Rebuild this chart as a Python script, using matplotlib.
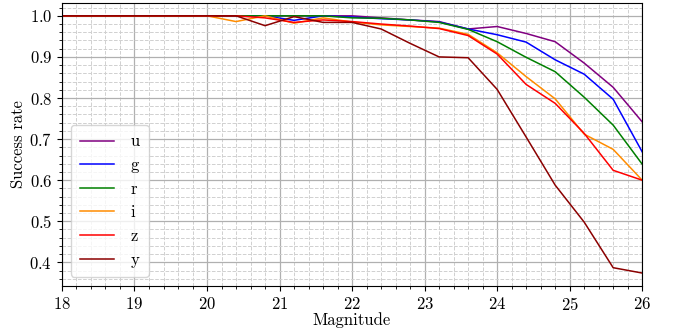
import numpy as np
import matplotlib
matplotlib.use('Agg')
import matplotlib.pyplot as plt
from matplotlib.ticker import MultipleLocator

plt.rcParams['font.family'] = 'serif'
plt.rcParams['font.serif'] = ['cmr10']
plt.rcParams['mathtext.fontset'] = 'cm'
plt.rcParams['axes.formatter.use_mathtext'] = True

mag = [18.0, 18.4, 18.8, 19.2, 19.6, 20.0, 20.4, 20.8, 21.2, 21.6, 22.0,
       22.4, 22.8, 23.2, 23.6, 24.0, 24.4, 24.8, 25.2, 25.6, 26.0]

bands = ['u', 'g', 'r', 'i', 'z', 'y']
colors = ['purple', 'blue', 'green', 'darkorange', 'red', 'darkred']

rate_u = [1.0, 1.0, 1.0, 1.0, 1.0, 1.0, 1.0, 1.0, 1.0, 1.0, 1.0,
          0.995, 0.99, 0.986, 0.968, 0.974, 0.957, 0.937, 0.885, 0.826, 0.742]
rate_g = [1.0, 1.0, 1.0, 1.0, 1.0, 1.0, 1.0, 1.0, 0.989, 1.0, 0.997,
          0.993, 0.99, 0.985, 0.968, 0.954, 0.936, 0.893, 0.858, 0.797, 0.669]
rate_r = [1.0, 1.0, 1.0, 1.0, 1.0, 1.0, 1.0, 1.0, 1.0, 1.0, 0.995,
          0.994, 0.99, 0.984, 0.967, 0.937, 0.899, 0.864, 0.802, 0.734, 0.639]
rate_i = [1.0, 1.0, 1.0, 1.0, 1.0, 1.0, 0.986, 1.0, 0.982, 0.995, 0.985,
          0.978, 0.974, 0.97, 0.955, 0.91, 0.852, 0.798, 0.712, 0.675, 0.6]
rate_z = [1.0, 1.0, 1.0, 1.0, 1.0, 1.0, 1.0, 0.995, 0.984, 0.99, 0.986,
          0.98, 0.975, 0.969, 0.952, 0.907, 0.833, 0.787, 0.714, 0.624, 0.6]
rate_y = [1.0, 1.0, 1.0, 1.0, 1.0, 1.0, 1.0, 0.976, 0.998, 0.984, 0.984,
          0.968, 0.933, 0.9, 0.898, 0.821, 0.705, 0.588, 0.498, 0.387, 0.374]

rates = [rate_u, rate_g, rate_r, rate_i, rate_z, rate_y]

fig = plt.figure(figsize=(6.81, 3.29), dpi=100)
ax = fig.add_axes([0.091, 0.131, 0.852, 0.86])

for b, c, r in zip(bands, colors, rates):
    ax.plot(mag, r, color=c, lw=1.1, label=b)

ax.set_xlim(18, 26)
ax.xaxis.set_major_locator(MultipleLocator(1))
ax.xaxis.set_minor_locator(MultipleLocator(0.2))
ax.yaxis.set_major_locator(MultipleLocator(0.1))
ax.yaxis.set_minor_locator(MultipleLocator(0.02))
ax.grid(which='major', color='#b0b0b0', lw=0.9)
ax.grid(which='minor', color='#d0d0d0', ls='--', lw=0.7)
ax.set_axisbelow(True)

ax.tick_params(labelsize=12)
ax.set_xlabel('Magnitude', fontsize=12, labelpad=0)
ax.set_ylabel('Success rate', fontsize=12, labelpad=2)

ax.legend(loc='lower left', fontsize=12, handlelength=2.0, borderaxespad=0.55,
          labelspacing=0.5, handletextpad=1.0, borderpad=0.55)

fig.savefig('out.png', dpi=100)
